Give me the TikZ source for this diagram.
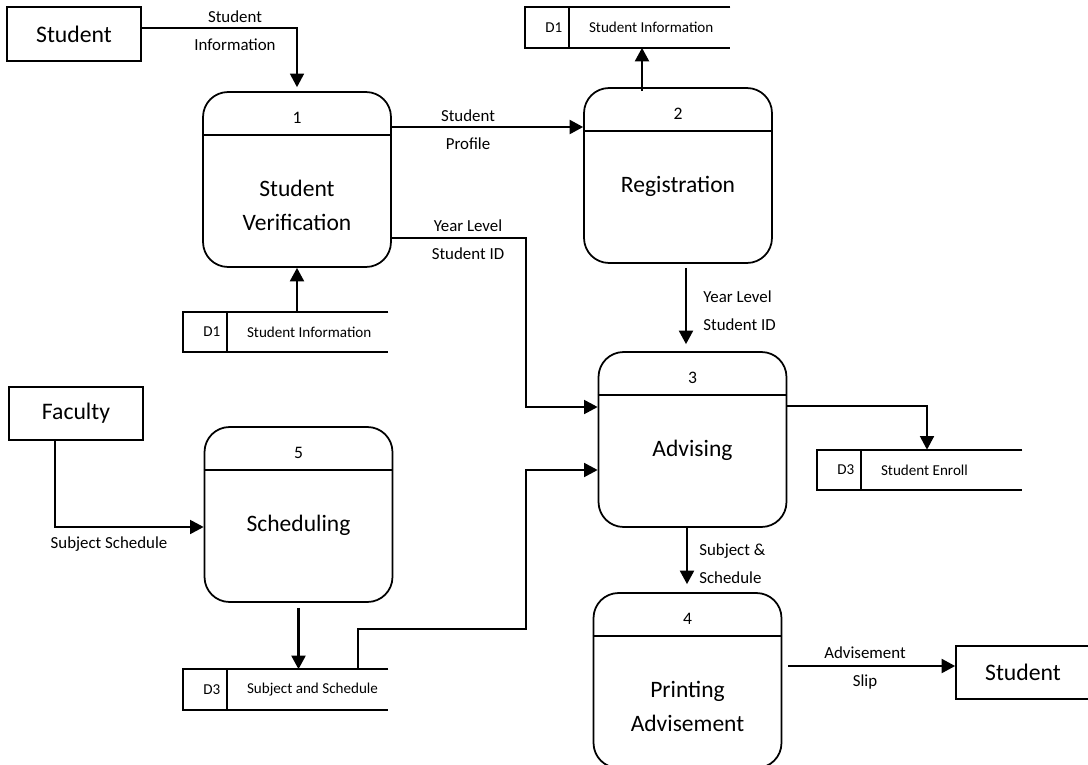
\documentclass[tikz,border=0pt]{standalone}
\usepackage{fontspec}
\setmainfont{Carlito}
\usetikzlibrary{arrows.meta, positioning}

\begin{document}
\begin{tikzpicture}[
  x=0.02cm, y=-0.02cm,
  proc/.style ={draw, line width=1pt, rounded corners=0.5cm, minimum width=3.76cm,
                minimum height=3.5cm, inner sep=0pt},
  ent/.style  ={draw, line width=1pt, minimum width=2.68cm, minimum height=1.07cm,
                font=\fontsize{13.5}{16}\selectfont},
  store/.style={minimum width=4.1cm, minimum height=0.8cm, inner sep=0pt},
  flow/.style ={-{Triangle[length=0.27cm, width=0.28cm]}, line width=1.2pt},
  elbow/.style={flow, line width=0.9pt},
  lbl/.style  ={font=\fontsize{9.6}{15.9}\selectfont, align=center, inner sep=0pt},
  ptxt/.style ={font=\fontsize{13.4}{19.3}\selectfont, align=center, anchor=north, inner sep=0pt},
  pnum/.style ={font=\fontsize{10}{12}\selectfont, inner sep=0pt},
  stxt/.style ={font=\fontsize{8.6}{10}\selectfont, inner sep=0pt},
]
  \useasboundingbox[fill=white] (0,0) rectangle (1088,764);

  % --- processes ------------------------------------------------
  \foreach \n/\x/\y/\num/\t in {p1/297/179.5/1/{Student\\Verification},
      p2/678/175.5/2/Registration, p3/692.5/439.5/3/Advising,
      p4/687.5/680.5/4/{Printing\\Advisement}, p5/298.5/514.5/5/Scheduling} {
    \node[proc] (\n) at (\x,\y) {};
    \draw[line width=1pt] ([yshift=-0.88cm]\n.north west) -- ([yshift=-0.88cm]\n.north east);
    \node[pnum] (\n num) at ([yshift=-0.54cm]\n.north) {\num};
    \node[ptxt] (\n txt) at ([yshift=-1.78cm]\n.north) {\t};
  }

  % --- external entities ----------------------------------------
  \node[ent] (e1)  at (74,34)      {Student};
  \node[ent] (fac) at (76,413.5)   {Faculty};
  \node[ent] (e2)  at (1023,672.5) {Student};

  % --- data stores (open on the right) --------------------------
  \foreach \n/\x/\y/\id/\t in {d1a/627.5/27.5/D1/Student Information,
      d1b/285.5/332/D1/Student Information, d3a/919.5/470/D3/Student Enroll,
      d3b/285.5/689.5/D3/Subject and Schedule} {
    \node[store] (\n) at (\x,\y) {};
    \draw[line width=1pt] (\n.north east) -- (\n.north west) -- (\n.south west) -- (\n.south east);
    \draw[line width=1pt] ([xshift=0.88cm]\n.north west) -- ([xshift=0.88cm]\n.south west);
    \node[stxt, anchor=east] (\n id)  at ([xshift=0.76cm]\n.west) {\id};
    \node[stxt, anchor=west] (\n txt) at ([xshift=1.28cm]\n.west) {\t};
  }

  % --- data flows -----------------------------------------------
  \draw[elbow, shorten >=0.08cm] ([yshift=0.12cm]e1.east) -| (p1.north);
  \node[lbl] (l1) at (235,31) {Student\\Information};

  \coordinate (f2s) at ([yshift=1.05cm]p1.east);
  \draw[flow] (f2s) -- (f2s -| p2.west);
  \node[lbl] (l2) at (468,130) {Student\\Profile};

  \coordinate (f3s) at ([xshift=-0.72cm]p2.north);
  \draw[flow] ([yshift=-0.08cm]f3s) -- (f3s |- d1a.south);

  \coordinate (f4s) at ([yshift=-1.17cm]p1.east);
  \coordinate (f4e) at ([yshift=0.65cm]p3.west);
  \draw[elbow] (f4s) -- ++(134,0) |- (f4e);
  \node[lbl] (l4) at (468,240) {Year Level\\Student ID};

  \draw[flow] (d1b.north -| p1.south) -- (p1.south);

  \coordinate (f6s) at ([xshift=0.16cm]p2.south);
  \draw[flow, shorten <=0.08cm, shorten >=0.14cm] (f6s) -- (f6s |- p3.north);
  \node[lbl, anchor=west, align=left] (l6) at (703,311) {Year Level\\Student ID};

  \coordinate (f7s) at ([xshift=1.45cm]d3b.north);
  \coordinate (f7e) at ([yshift=-0.61cm]p3.west);
  \draw[elbow] (f7s) -- ++(0,-40) -- ++(168,0) |- (f7e);

  \coordinate (f8s) at ([yshift=0.67cm]p3.east);
  \draw[elbow] (f8s) -| ([xshift=0.15cm]d3a.north);

  \coordinate (f9s) at ([xshift=-0.11cm]p3.south);
  \draw[flow, shorten >=0.16cm] (f9s) -- (f9s |- p4.north);
  \node[lbl, anchor=west, align=left] (l9) at (699,564) {Subject \&\\Schedule};

  \coordinate (f10s) at ([yshift=0.29cm]p4.east);
  \draw[flow, shorten <=0.12cm] (f10s) -- (f10s -| e2.west);
  \node[lbl] (l10) at (865,668) {Advisement\\Slip};

  \coordinate (f11s) at ([xshift=-0.42cm]fac.south);
  \coordinate (f11e) at ([yshift=-0.25cm]p5.west);
  \draw[elbow] (f11s) |- (f11e);
  \node[lbl] (l11) at (109,544) {Subject Schedule};

  \draw[flow, shorten <=0.1cm] (p5.south) -- (p5.south |- d3b.north);
\end{tikzpicture}
\end{document}
